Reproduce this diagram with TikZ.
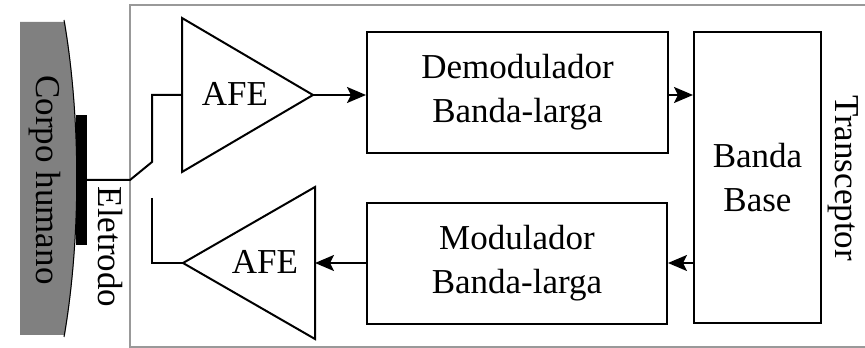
\documentclass[tikz,border=0pt]{standalone}
\usepackage{fontspec}
\setmainfont{Liberation Serif}
\usepackage{tikz}
\usetikzlibrary{arrows.meta,calc}
\usetikzlibrary{positioning}

\begin{document}
\begin{tikzpicture}[x=1pt,y=1pt,
                bloco/.style={draw, line width=2pt, fill=white, align=center, inner sep=0pt},
                fio/.style={line width=2pt},
                seta/.style={line width=2pt, -{Stealth[length=19pt,width=16pt,inset=4pt]}},
                texto/.style={font=\fontsize{35}{44}\selectfont, align=center, inner sep=0pt}]
                \useasboundingbox (0,0) rectangle (865,348);
                % corpo e eletrodo
                \fill[black!50] (20,326) -- (65,326) .. controls (81,230) and (81,109) .. (65,13) -- (20,13) -- cycle;
                \draw[line width=1pt] (64,328) .. controls (81,230) and (81,109) .. (64,11);
                \fill[black] (76,103) rectangle (87,233);
                \node[texto, rotate=-90] (corpo) at (45,168) {Corpo humano};
                \node[texto, rotate=-90] (eletrodo) at (110,101) {Eletrodo};
                \coordinate (el) at (87,168);
                % transceptor
                \draw[black!40, line width=1.5pt] (866,343) -- (130,343) -- (130,1) -- (866,1);
                \node[texto, rotate=-90] (transc) at (843,170) {Transceptor};
                % AFE
                \coordinate (afe1in) at (182,253);
                \coordinate (afe1out) at (313,253);
                \draw[fio, line join=miter] (182,330) -- (afe1out) -- (182,176) -- cycle;
                \node[texto] (afe1) at (235,254) {AFE};
                \coordinate (afe2out) at (183,85);
                \coordinate (afe2in) at (315,85);
                \draw[fio, line join=miter] (315,161) -- (afe2out) -- (315,9) -- cycle;
                \node[texto] (afe2) at (265,86) {AFE};
                \draw[fio] (el) -- (130,168) -- (152,186) -- (152,253) -- (afe1in);
                \draw[fio] (152,150) -- (152,85) -- (afe2out);
                % blocos
                \node[bloco, minimum width=301pt, minimum height=121pt] (demod) at (517.5,255.5) {};
                \node[texto] at (demod) {Demodulador\\Banda-larga};
                \node[bloco, minimum width=300pt, minimum height=121pt] (mod) at (517,84.5) {};
                \node[texto] at (mod) {Modulador\\Banda-larga};
                \node[bloco, minimum width=127pt, minimum height=291pt] (bb) at (757.5,170.5) {};
                \node[texto] at (bb) {Banda\\Base};
                % setas
                \draw[seta] (afe1out) -- (demod.west |- afe1out);
                \draw[seta] (demod.east |- afe1out) -- (bb.west |- afe1out);
                \draw[seta] (bb.west |- afe2in) -- (mod.east |- afe2in);
                \draw[seta] (mod.west |- afe2in) -- (afe2in);
\end{tikzpicture}
\end{document}
